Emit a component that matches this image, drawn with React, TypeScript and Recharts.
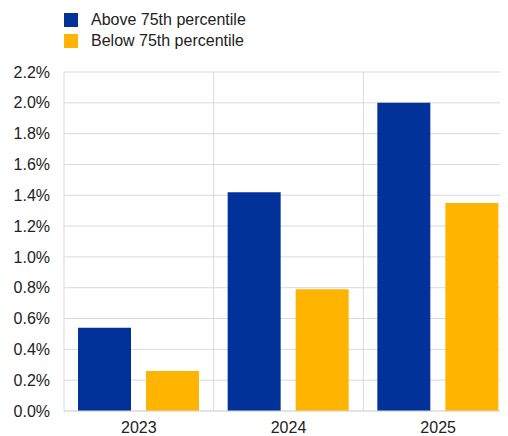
import React from 'react';
import { BarChart, Bar, XAxis, YAxis, CartesianGrid, Legend } from 'recharts';

const categories = ['2023', '2024', '2025'];
const above75 = [0.54, 1.42, 2.0];
const below75 = [0.26, 0.79, 1.35];
const yTicks = [0, 0.2, 0.4, 0.6, 0.8, 1.0, 1.2, 1.4, 1.6, 1.8, 2.0, 2.2];
const seriesNames = ['Above 75th percentile', 'Below 75th percentile'];
const colors = ['#003299', '#FFB400'];

const data = categories.map((c, i) => ({ year: c, above: above75[i], below: below75[i] }));

const FONT = '"Liberation Sans", Arial, sans-serif';

const LegendContent = () => (
  <div style={{ fontFamily: FONT, fontSize: 16, color: '#222' }}>
    {seriesNames.map((n, i) => (
      <div key={n} style={{ display: 'flex', alignItems: 'center', height: 21 }}>
        <span style={{ display: 'inline-block', width: 14, height: 14, background: colors[i], marginRight: 13 }} />
        <span>{n}</span>
      </div>
    ))}
  </div>
);

export default function App() {
  return (
    <div style={{ width: 500, height: 428, overflow: 'hidden' }}>
      <BarChart
        width={505}
        height={428}
        data={data}
        margin={{ top: 22, right: 0, bottom: 0, left: 0 }}
        barCategoryGap={14}
        barGap={15}
      >
        <CartesianGrid
          stroke="#d9d9d9"
          verticalCoordinatesGenerator={({ offset }: any) => [
            offset.left,
            offset.left + offset.width / 3,
            offset.left + (2 * offset.width) / 3,
            offset.left + offset.width,
          ]}
        />
        <XAxis
          dataKey="year"
          height={25}
          tickLine={false}
          axisLine={{ stroke: '#d9d9d9' }}
          tickMargin={5}
          tick={{ fill: '#222', fontSize: 16, fontFamily: FONT }}
        />
        <YAxis
          width={56}
          domain={[0, 2.2]}
          ticks={yTicks}
          interval={0}
          tickLine={false}
          axisLine={false}
          tickMargin={8}
          tickFormatter={(v: number) => v.toFixed(1) + '%'}
          tick={{ fill: '#222', fontSize: 16, fontFamily: FONT }}
        />
        <Legend
          content={<LegendContent />}
          verticalAlign="top"
          wrapperStyle={{ top: 1, left: 56, width: 300 }}
        />
        <Bar dataKey="above" name={seriesNames[0]} fill={colors[0]} isAnimationActive={false} />
        <Bar dataKey="below" name={seriesNames[1]} fill={colors[1]} isAnimationActive={false} />
      </BarChart>
    </div>
  );
}
